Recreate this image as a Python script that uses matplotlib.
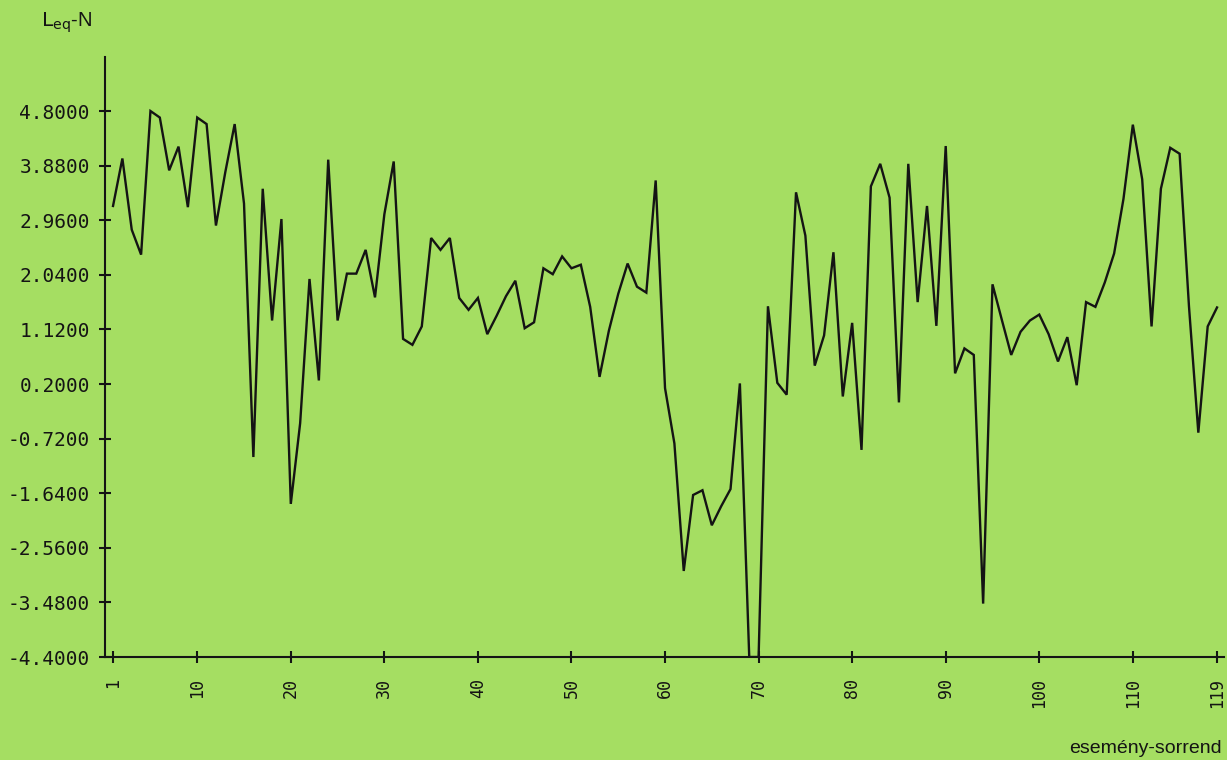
"""Leq-N deviation plotted against event order, plotter style on green paper."""

import matplotlib.pyplot as plt
import numpy as np

# --- Data ------------------------------------------------------------------

EVENT_ORDER = np.arange(1, 120)

LEQ_MINUS_N = [
    3.20, 4.00, 2.80, 2.38, 4.80, 4.69, 3.80, 4.20, 3.18, 4.69,
    4.58, 2.87, 3.77, 4.58, 3.24, -1.03, 3.49, 1.27, 2.98, -1.82,
    -0.46, 1.97, 0.26, 3.98, 1.27, 2.06, 2.06, 2.46, 1.66, 3.06,
    3.95, 0.96, 0.86, 1.17, 2.66, 2.46, 2.66, 1.65, 1.45, 1.65,
    1.04, 1.35, 1.68, 1.94, 1.14, 1.24, 2.15, 2.05, 2.35, 2.15,
    2.21, 1.50, 0.32, 1.10, 1.72, 2.23, 1.84, 1.74, 3.63, 0.13,
    -0.80, -2.95, -1.67, -1.59, -2.18, -1.86, -1.57, 0.21, -4.40, -4.40,
    1.51, 0.22, 0.02, 3.43, 2.70, 0.51, 1.02, 2.42, -0.01, 1.23,
    -0.91, 3.53, 3.91, 3.34, -0.11, 3.91, 1.58, 3.20, 1.18, 4.21,
    0.38, 0.80, 0.69, -3.50, 1.88, 1.28, 0.69, 1.08, 1.27, 1.37,
    1.04, 0.58, 0.99, 0.18, 1.58, 1.50, 1.91, 2.40, 3.32, 4.57,
    3.65, 1.17, 3.49, 4.18, 4.08, 1.51, -0.62, 1.17, 1.49,
]

Y_TICKS = [4.80, 3.88, 2.96, 2.04, 1.12, 0.20, -0.72, -1.64, -2.56, -3.48, -4.40]
X_TICKS = [1, 10, 20, 30, 40, 50, 60, 70, 80, 90, 100, 110, 119]

Y_LABEL = r"$\mathrm{L_{eq}}$-N"
X_LABEL = "esemény-sorrend"

# --- Style -------------------------------------------------------------------

PAPER = "#a5de62"
INK = "#141414"
PLOTTER_FONT = "DejaVu Sans Mono"
LABEL_FONT = "Liberation Sans"


def main() -> None:
    fig = plt.figure(figsize=(12.27, 7.60), dpi=100, facecolor=PAPER)
    ax = fig.add_axes([0.0856, 0.1355, 0.9120, 0.7895])
    ax.set_facecolor(PAPER)

    ax.plot(EVENT_ORDER, LEQ_MINUS_N, color=INK, lw=1.7, solid_joinstyle="miter")

    ax.set_xlim(0.145, 119.75)
    ax.set_ylim(-4.4, 5.71)

    for side in ("top", "right"):
        ax.spines[side].set_visible(False)
    for side in ("left", "bottom"):
        ax.spines[side].set_color(INK)
        ax.spines[side].set_linewidth(1.5)

    ax.set_yticks(Y_TICKS)
    ax.set_yticklabels([f"{v:.4f}" for v in Y_TICKS], fontfamily=PLOTTER_FONT, fontsize=14)
    ax.set_xticks(X_TICKS)
    ax.set_xticklabels([str(v) for v in X_TICKS], fontfamily=PLOTTER_FONT, fontsize=12, rotation=90)

    ax.tick_params(axis="y", direction="inout", length=8, width=1.5, color=INK, pad=7, labelcolor=INK)
    ax.tick_params(axis="x", direction="inout", length=8, width=1.5, color=INK, pad=11, labelcolor=INK)

    fig.text(41 / 1227, 1 - 27 / 760, Y_LABEL, fontsize=14.5, color=INK, family=LABEL_FONT,
             ha="left", va="baseline")
    fig.text(1222 / 1227, 1 - 753 / 760, X_LABEL, fontsize=14, color=INK, family=LABEL_FONT,
             ha="right", va="baseline")

    fig.savefig("out.png", dpi=100, facecolor=PAPER)
    plt.close(fig)


if __name__ == "__main__":
    main()
